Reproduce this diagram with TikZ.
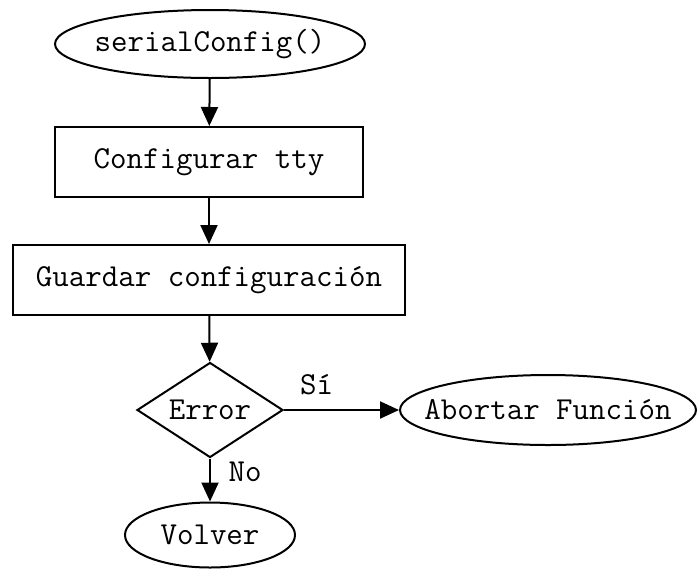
\documentclass[tikz,border=0pt]{standalone}
\usetikzlibrary{shapes.geometric,arrows.meta}
\begin{document}
\begin{tikzpicture}[x=1pt,y=-1pt,
  every node/.style={font=\ttfamily\fontsize{32}{34}\selectfont, inner sep=0pt},
  oval/.style={draw, ellipse, line width=2pt},
  box/.style={draw, rectangle, line width=2pt},
  dec/.style={draw, diamond, line width=2pt},
  conn/.style={line width=2pt, -{Triangle[length=19pt,width=17pt]}}]
\useasboundingbox (0,0) rectangle (699,574);
\node[oval, minimum width=310, minimum height=68] (start) at (210,44) {\makebox[0pt]{serialConfig()}};
\node[box, minimum width=308, minimum height=70] (tty) at (209,162) {Configurar tty};
\node[box, minimum width=392, minimum height=70] (save) at (209,280) {Guardar configuración};
\node[dec, minimum width=146, minimum height=95] (err) at (210,410) {\makebox[0pt]{Error}};
\node[oval, minimum width=296, minimum height=70] (abort) at (548,410) {\makebox[0pt]{Abortar Función}};
\node[oval, minimum width=170, minimum height=65] (ret) at (210,535) {\makebox[0pt]{Volver}};
\draw[conn] (start) -- (tty);
\draw[conn] (tty) -- (save);
\draw[conn] (save) -- (err);
\draw[conn] (err.east) -- node[yshift=25pt, xshift=-25pt] {Sí} (abort.west);
\draw[conn] (err.south) -- node[xshift=35pt, yshift=8pt] {No} (ret.north);
\end{tikzpicture}
\end{document}
